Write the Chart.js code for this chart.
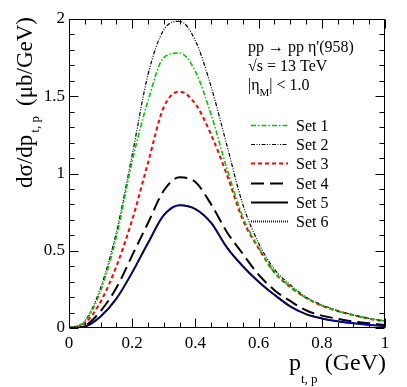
<!DOCTYPE html>
<html>
<head>
<meta charset="utf-8">
<script src="https://cdn.jsdelivr.net/npm/chart.js@4.4.0/dist/chart.umd.min.js"></script>
<style>
  html, body { margin: 0; padding: 0; background: #fff; }
  canvas { display: block; }
</style>
</head>
<body>
<canvas id="chart" width="407" height="387"></canvas>
<script>
// transverse momentum of the proton (GeV)
const pt = [0, 0.05, 0.1, 0.15, 0.2, 0.25, 0.3, 0.35, 0.4, 0.45, 0.5,
  0.55, 0.6, 0.65, 0.7, 0.75, 0.8, 0.85, 0.9, 0.95, 1.0];

// dsigma/dp_t,p (microbarn/GeV)
const set1 = [0, 0.04, 0.24, 0.59, 1.08, 1.47, 1.75, 1.78, 1.66, 1.38, 1.03,
  0.72, 0.52, 0.36, 0.27, 0.195, 0.145, 0.11, 0.083, 0.06, 0.045];
const set2 = [0, 0.045, 0.26, 0.62, 1.12, 1.64, 1.93, 1.985, 1.86, 1.56, 1.18,
  0.80, 0.55, 0.38, 0.28, 0.2, 0.15, 0.112, 0.085, 0.062, 0.046];
const set3 = [0, 0.03, 0.17, 0.4, 0.7, 1.07, 1.43, 1.53, 1.45, 1.25, 0.99,
  0.7, 0.515, 0.36, 0.265, 0.195, 0.145, 0.11, 0.083, 0.06, 0.042];
const set4 = [0, 0.015, 0.11, 0.26, 0.47, 0.68, 0.89, 0.975, 0.945, 0.8, 0.62,
  0.48, 0.345, 0.245, 0.175, 0.115, 0.08, 0.06, 0.042, 0.03, 0.02];
const set5 = [0, 0.01, 0.075, 0.19, 0.36, 0.55, 0.73, 0.795, 0.77, 0.68, 0.52,
  0.4, 0.3, 0.215, 0.14, 0.09, 0.062, 0.043, 0.03, 0.02, 0.013];
const set6 = [0, 0.01, 0.075, 0.19, 0.36, 0.55, 0.73, 0.795, 0.77, 0.68, 0.52,
  0.4, 0.3, 0.215, 0.14, 0.09, 0.062, 0.043, 0.03, 0.02, 0.013];

const seriesNames = ["Set 1", "Set 2", "Set 3", "Set 4", "Set 5", "Set 6"];
const xTicks = [0, 0.2, 0.4, 0.6, 0.8, 1];
const yTicks = [0, 0.5, 1, 1.5, 2];

const SERIF = "'Liberation Serif', 'DejaVu Serif', serif";

function toPoints(values) {
  return values.map((v, i) => ({ x: pt[i], y: v }));
}

const styles = [
  { color: "#00c800", width: 1.6, dash: [5, 2, 1.5, 2] },
  { color: "#000000", width: 1.2, dash: [4, 1.5, 1, 1.5, 1, 1.5] },
  { color: "#ff0000", width: 2, dash: [4, 3] },
  { color: "#000000", width: 2, dash: [13, 6] },
  { color: "#000000", width: 2, dash: [] },
  { color: "#0000ff", width: 1.5, dash: [1, 1] },
];

const allSets = [set1, set2, set3, set4, set5, set6];

const datasets = allSets.map((values, i) => ({
  label: seriesNames[i],
  data: toPoints(values),
  borderColor: styles[i].color,
  borderWidth: styles[i].width,
  borderDash: styles[i].dash,
  pointRadius: 0,
  fill: false,
  cubicInterpolationMode: "monotone",
  order: i === 5 ? 0 : 1,
}));

// frame, inward ticks, legend, labels with subscripts
const decorations = {
  id: "decorations",
  afterDraw(chart) {
    const { ctx, chartArea: a, scales } = chart;
    const x = scales.x, y = scales.y;
    ctx.save();

    // frame
    ctx.strokeStyle = "#000";
    ctx.lineWidth = 1;
    const L = Math.round(a.left) + 0.5, R = Math.round(a.right) - 0.5;
    const T = Math.round(a.top) + 0.5, B = Math.round(a.bottom) - 0.5;
    ctx.strokeRect(L, T, R - L, B - T);

    // x ticks (major 0.2, minor 0.05)
    ctx.beginPath();
    for (let i = 0; i <= 20; i++) {
      const px = Math.round(x.getPixelForValue(i * 0.05)) + 0.5;
      const len = i % 4 === 0 ? 9 : 5;
      ctx.moveTo(px, B); ctx.lineTo(px, B - len);
      ctx.moveTo(px, T); ctx.lineTo(px, T + len);
    }
    // y ticks (major 0.5, minor 0.1)
    for (let i = 0; i <= 20; i++) {
      const py = Math.round(y.getPixelForValue(i * 0.1)) + 0.5;
      const len = i % 5 === 0 ? 9 : 5;
      ctx.moveTo(L, py); ctx.lineTo(L + len, py);
      ctx.moveTo(R, py); ctx.lineTo(R - len, py);
    }
    ctx.stroke();

    // legend
    ctx.font = "16px " + SERIF;
    ctx.textBaseline = "middle";
    ctx.fillStyle = "#000";
    chart.data.datasets.forEach((ds, i) => {
      const ly = Math.round(125 + i * 19.2) + 0.5;
      ctx.save();
      ctx.strokeStyle = ds.borderColor;
      ctx.lineWidth = i === 5 ? 2 : ds.borderWidth;
      ctx.setLineDash(ds.borderDash);
      ctx.beginPath();
      ctx.moveTo(251, ly);
      ctx.lineTo(288, ly);
      ctx.stroke();
      ctx.restore();
      ctx.fillText(ds.label, 296, ly + 1);
    });

    // process info
    ctx.textBaseline = "alphabetic";
    ctx.font = "16px " + SERIF;
    ctx.fillText("pp \u2192 pp \u03b7'(958)", 248, 52);
    ctx.fillText("\u221as = 13 TeV", 248, 71);
    ctx.fillText("|\u03b7", 248, 90);
    let w = ctx.measureText("|\u03b7").width;
    ctx.font = "11px " + SERIF;
    ctx.fillText("M", 248 + w, 96);
    const wm = ctx.measureText("M").width;
    ctx.font = "16px " + SERIF;
    ctx.fillText("| < 1.0", 248 + w + wm, 90);

    // x axis title
    ctx.font = "24px " + SERIF;
    ctx.fillText("p", 289, 370);
    ctx.font = "13px " + SERIF;
    ctx.fillText("t, p", 301, 383);
    ctx.font = "24px " + SERIF;
    ctx.textAlign = "right";
    ctx.fillText("(GeV)", 386, 370);
    ctx.textAlign = "left";

    // y axis title
    ctx.translate(32, 188);
    ctx.rotate(-Math.PI / 2);
    ctx.font = "23px " + SERIF;
    ctx.fillText("d\u03c3/dp", 0, 0);
    w = ctx.measureText("d\u03c3/dp").width;
    ctx.font = "13px " + SERIF;
    ctx.fillText("t, p", w + 2, 7);
    ctx.font = "23px " + SERIF;
    ctx.fillText("(\u03bcb/GeV)", 82, 0);

    ctx.restore();
  },
};

const chartConfig = {
  type: "line",
  data: { datasets: datasets },
  options: {
    responsive: false,
    animation: false,
    devicePixelRatio: 1,
    layout: { padding: { top: 19, right: 22, left: 0, bottom: 0 } },
    plugins: {
      legend: { display: false },
      tooltip: { enabled: false },
    },
    scales: {
      x: {
        type: "linear",
        min: 0,
        max: 1,
        grid: { display: false, drawTicks: false },
        border: { display: false },
        afterBuildTicks: (scale) => { scale.ticks = xTicks.map((v) => ({ value: v })); },
        afterFit: (scale) => { scale.height = 59; },
        ticks: {
          padding: 5,
          maxRotation: 0,
          color: "#000",
          font: { family: SERIF, size: 17 },
          callback: (v) => String(v),
        },
      },
      y: {
        type: "linear",
        min: 0,
        max: 2,
        grid: { display: false, drawTicks: false },
        border: { display: false },
        afterBuildTicks: (scale) => { scale.ticks = yTicks.map((v) => ({ value: v })); },
        afterFit: (scale) => { scale.width = 69; },
        ticks: {
          padding: 4,
          color: "#000",
          font: { family: SERIF, size: 17 },
          callback: (v) => String(v),
        },
      },
    },
  },
  plugins: [decorations],
};

new Chart(document.getElementById("chart").getContext("2d"), chartConfig);
</script>
</body>
</html>
